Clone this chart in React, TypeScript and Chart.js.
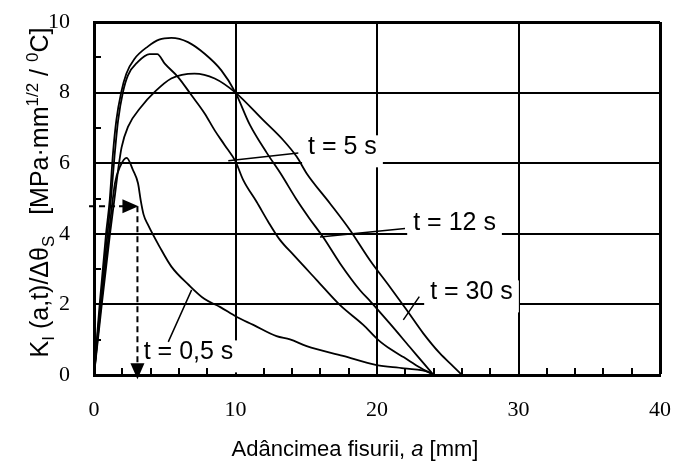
import React, { useEffect, useRef } from 'react';
import { Chart, registerables } from 'chart.js';

Chart.register(...registerables);

// ---- axis setup ----
const xMin = 0;
const xMax = 40;
const xStep = 10;
const yMin = 0;
const yMax = 10;
const yStep = 2;
const xMinorTicks = [2, 4, 6, 8, 12, 14, 16, 18, 22, 24, 26, 28, 32, 34, 36, 38];
const yMinorTicks = [1, 3, 5, 7, 9];

// ---- series (crack depth a [mm], K/Δθ) ----
const t05X = [0, 0.5, 1.05, 1.48, 1.84, 2.31, 2.76, 3.11, 3.3, 3.5, 3.82, 4.64, 5.47, 6.7, 7.82, 8.9, 10.06, 11.26, 12.9, 13.85, 15.03, 17.6, 19.98, 21.9, 23.75, 24];
const t05Y = [0, 2, 4, 5.43, 5.9, 6.15, 5.8, 5.43, 4.95, 4.55, 4.25, 3.63, 3.07, 2.55, 2.15, 1.93, 1.65, 1.42, 1.1, 1.01, 0.82, 0.54, 0.28, 0.19, 0.07, 0];

const t5X = [0, 0.45, 0.95, 1.2, 1.45, 1.7, 2.05, 2.4, 3.1, 3.93, 4.47, 5.0, 5.94, 6.88, 7.82, 8.53, 9.24, 10, 10.55, 11.5, 12.3, 13.1, 14.1, 15.74, 17.39, 19.03, 20.1, 21.0, 21.9, 23.0, 24];
const t5Y = [0, 2, 4, 5, 6.2, 7.2, 8.02, 8.49, 8.87, 9.09, 9.09, 8.82, 8.44, 7.93, 7.41, 6.93, 6.51, 6.05, 5.52, 4.9, 4.35, 3.85, 3.4, 2.69, 1.98, 1.42, 0.99, 0.72, 0.5, 0.22, 0];

const t12X = [0, 0.4, 0.85, 1.11, 1.34, 1.58, 1.93, 2.29, 2.87, 3.82, 4.6, 5.47, 6.64, 7.82, 9.0, 10, 11, 12.2, 13.2, 14.3, 15.2, 16.2, 17.39, 18.8, 19.5, 20.9, 22.3, 23.3, 24];
const t12Y = [0, 2, 4, 4.95, 6.27, 7.22, 8.02, 8.54, 8.96, 9.31, 9.5, 9.55, 9.43, 9.1, 8.63, 8.0, 7.1, 6.3, 5.7, 4.98, 4.45, 3.9, 3.16, 2.4, 2.1, 1.46, 0.8, 0.33, 0];

const t30X = [0, 0.55, 1.13, 1.45, 1.7, 1.95, 2.4, 3.34, 4.29, 5.46, 7.1, 8.53, 10, 11.96, 13.38, 14.33, 15.03, 16.68, 18.1, 19.5, 20.9, 22.1, 23.27, 24.45, 25.4, 26];
const t30Y = [0, 2, 4, 5, 5.8, 6.45, 7.03, 7.6, 8.02, 8.4, 8.54, 8.4, 8.0, 7.22, 6.65, 6.18, 5.71, 4.86, 4.1, 3.25, 2.5, 1.84, 1.18, 0.61, 0.24, 0];

// ---- curve labels (text, centre x, centre y in data units) ----
const labelTexts = ['t = 5 s', 't = 12 s', 't = 30 s', 't = 0,5 s'];
const labelX = [17.56, 25.48, 26.68, 6.68];
const labelY = [6.45, 4.29, 2.34, 0.64];
// leader lines [x1, y1, x2, y2]
const leaders = [
  [9.49, 6.07, 14.44, 6.29],
  [15.97, 3.91, 21.98, 4.15],
  [21.86, 1.56, 22.99, 2.22],
  [5.25, 0.94, 6.9, 2.41],
];
// dashed read-off arrow
const arrowA = 3.07;
const arrowK = 4.78;
const arrowStartA = -0.35;
const arrowEndK = -0.09;

const xTitleMain = 'Adâncimea fisurii, ';
const xTitleItalic = 'a';
const xTitleEnd = ' [mm]';

const SANS = '"Liberation Sans", Arial, sans-serif';
const SERIF = '"Liberation Serif", "Times New Roman", serif';

function pts(xs: number[], ys: number[]) {
  return xs.map((x, i) => ({ x, y: ys[i] }));
}

const LABEL_FONT = `25px ${SANS}`;

const annotPlugin = {
  id: 'annot',
  beforeDatasetsDraw(chart: any) {
    const ctx = chart.ctx;
    const xs = chart.scales.x;
    const ys = chart.scales.y;
    ctx.save();
    ctx.font = LABEL_FONT;
    ctx.fillStyle = '#fff';
    labelTexts.forEach((t, i) => {
      const w = ctx.measureText(t).width;
      const cx = xs.getPixelForValue(labelX[i]);
      const cy = ys.getPixelForValue(labelY[i]);
      ctx.fillRect(cx - w / 2 - 6, cy - 12, w + 12, 32);
    });
    ctx.restore();
  },
  afterDatasetsDraw(chart: any) {
    const ctx = chart.ctx;
    const xs = chart.scales.x;
    const ys = chart.scales.y;
    const area = chart.chartArea;
    ctx.save();
    // minor ticks
    ctx.strokeStyle = '#000';
    ctx.lineWidth = 2;
    ctx.beginPath();
    xMinorTicks.forEach((v) => {
      const px = Math.round(xs.getPixelForValue(v));
      ctx.moveTo(px, area.bottom);
      ctx.lineTo(px, area.bottom - 7);
    });
    yMinorTicks.forEach((v) => {
      const py = Math.round(ys.getPixelForValue(v));
      ctx.moveTo(area.left, py);
      ctx.lineTo(area.left + 7, py);
    });
    ctx.stroke();

    // leader lines
    ctx.lineWidth = 1.5;
    ctx.beginPath();
    leaders.forEach((l) => {
      ctx.moveTo(xs.getPixelForValue(l[0]), ys.getPixelForValue(l[1]));
      ctx.lineTo(xs.getPixelForValue(l[2]), ys.getPixelForValue(l[3]));
    });
    ctx.stroke();

    // labels
    ctx.fillStyle = '#000';
    ctx.font = LABEL_FONT;
    ctx.textAlign = 'center';
    ctx.textBaseline = 'middle';
    labelTexts.forEach((t, i) => {
      ctx.fillText(t, xs.getPixelForValue(labelX[i]), ys.getPixelForValue(labelY[i]));
    });

    // dashed arrows
    const ax = xs.getPixelForValue(arrowA);
    const ay = ys.getPixelForValue(arrowK);
    const x0 = xs.getPixelForValue(arrowStartA);
    const yEnd = ys.getPixelForValue(arrowEndK);
    ctx.lineWidth = 2;
    ctx.setLineDash([6, 4]);
    ctx.beginPath();
    ctx.moveTo(x0, ay);
    ctx.lineTo(ax - 14, ay);
    ctx.moveTo(ax, ay);
    ctx.lineTo(ax, yEnd - 14);
    ctx.stroke();
    ctx.setLineDash([]);
    ctx.beginPath();
    ctx.moveTo(ax + 1, ay);
    ctx.lineTo(ax - 15, ay - 7);
    ctx.lineTo(ax - 15, ay + 7);
    ctx.closePath();
    ctx.fill();
    ctx.beginPath();
    ctx.moveTo(ax, yEnd + 1);
    ctx.lineTo(ax - 7, yEnd - 15);
    ctx.lineTo(ax + 7, yEnd - 15);
    ctx.closePath();
    ctx.fill();
    ctx.restore();
  },
  afterDraw(chart: any) {
    const ctx = chart.ctx;
    const area = chart.chartArea;
    ctx.save();
    ctx.fillStyle = '#000';
    ctx.textBaseline = 'alphabetic';
    ctx.textAlign = 'left';
    // x title
    const fMain = `22px ${SANS}`;
    const fIt = `italic 22px ${SANS}`;
    ctx.font = fMain;
    const w1 = ctx.measureText(xTitleMain).width;
    const w3 = ctx.measureText(xTitleEnd).width;
    ctx.font = fIt;
    const w2 = ctx.measureText(xTitleItalic).width;
    const cx = area.left + 261;
    let x = cx - (w1 + w2 + w3) / 2;
    const by = area.bottom + 81;
    ctx.font = fMain;
    ctx.fillText(xTitleMain, x, by);
    x += w1;
    ctx.font = fIt;
    ctx.fillText(xTitleItalic, x, by);
    x += w2;
    ctx.font = fMain;
    ctx.fillText(xTitleEnd, x, by);

    // y title (rotated)
    const segs: [string, number][] = [
      ['K', 0], ['I', 1], [' (a,t)/\u0394\u03b8', 0], ['S', 1],
      ['   [MPa\u00b7mm', 0], ['1/2', 2], [' / ', 0], ['0', 2], ['C]', 0],
    ];
    const big = `25px ${SANS}`;
    const small = `17px ${SANS}`;
    let total = 0;
    const widths = segs.map(([t, s]) => {
      ctx.font = s === 0 ? big : small;
      const w = ctx.measureText(t).width;
      total += w;
      return w;
    });
    ctx.translate(area.left - 46, (area.top + area.bottom) / 2 - 6);
    ctx.rotate(-Math.PI / 2);
    let lx = -total / 2;
    segs.forEach(([t, s], i) => {
      ctx.font = s === 0 ? big : small;
      const dy = s === 1 ? 6 : s === 2 ? -10 : 0;
      ctx.fillText(t, lx, dy);
      lx += widths[i];
    });
    ctx.restore();
  },
};

export default function App() {
  const ref = useRef<HTMLCanvasElement | null>(null);
  useEffect(() => {
    if (!ref.current) return;
    const ds = (xs: number[], ys: number[], label: string) => ({
      label,
      data: pts(xs, ys),
      borderColor: '#000',
      backgroundColor: '#000',
      borderWidth: 1.8,
      pointRadius: 0,
      fill: false,
      cubicInterpolationMode: 'monotone' as const,
    });
    const chart = new Chart(ref.current, {
      type: 'line',
      data: {
        datasets: [
          ds(t05X, t05Y, labelTexts[3]),
          ds(t5X, t5Y, labelTexts[0]),
          ds(t12X, t12Y, labelTexts[1]),
          ds(t30X, t30Y, labelTexts[2]),
        ],
      },
      options: {
        animation: false,
        responsive: false,
        devicePixelRatio: 1,
        layout: { padding: { left: 0, right: 13, top: 22, bottom: 0 } },
        plugins: { legend: { display: false }, tooltip: { enabled: false } },
        scales: {
          x: {
            type: 'linear',
            min: xMin,
            max: xMax,
            afterFit: (s: any) => { s.height = 86; s.paddingLeft = 0; s.paddingRight = 0; },
            ticks: { stepSize: xStep, color: '#000', font: { family: SERIF, size: 22 }, padding: 22, maxRotation: 0 },
            grid: {
              color: '#000',
              lineWidth: (c: any) => (c.tick && c.tick.value === xMax ? 3 : 2),
              drawTicks: false,
            },
            border: { display: true, color: '#000', width: 3 },
          },
          y: {
            type: 'linear',
            min: yMin,
            max: yMax,
            afterFit: (s: any) => { s.width = 94; s.paddingTop = 0; s.paddingBottom = 0; },
            ticks: { stepSize: yStep, color: '#000', font: { family: SERIF, size: 22 }, padding: 24 },
            grid: {
              color: '#000',
              lineWidth: (c: any) => (c.tick && c.tick.value === yMax ? 3 : 2),
              drawTicks: false,
            },
            border: { display: true, color: '#000', width: 3 },
          },
        },
      },
      plugins: [annotPlugin],
    });
    return () => chart.destroy();
  }, []);
  return (
    <div style={{ position: 'absolute', left: 0, top: 0, width: 673, height: 461, background: '#fff' }}>
      <canvas ref={ref} width={673} height={461} />
    </div>
  );
}
